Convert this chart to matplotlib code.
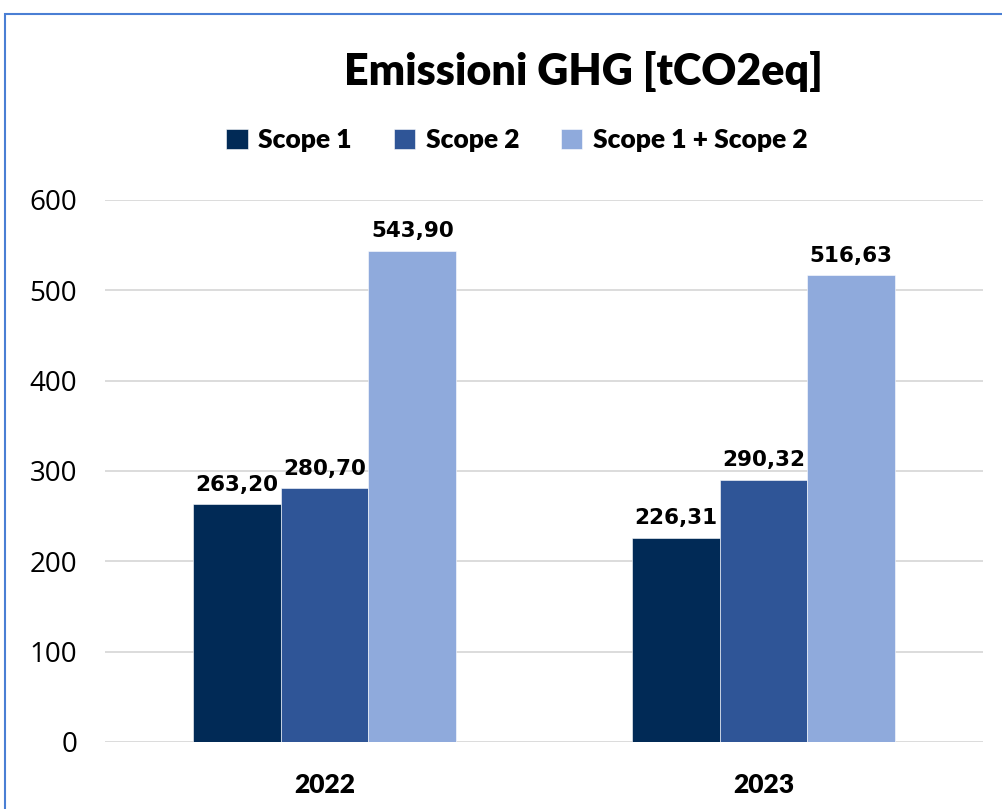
import matplotlib
matplotlib.use('Agg')
import matplotlib.pyplot as plt
from matplotlib.patches import Rectangle
import numpy as np

# data
years = ['2022', '2023']
series_names = ['Scope 1', 'Scope 2', 'Scope 1 + Scope 2']
scope1 = [263.20, 226.31]
scope2 = [280.70, 290.32]
scope_tot = [543.90, 516.63]
colors = ['#012a56', '#2f5597', '#8faadc']

fig = plt.figure(figsize=(10.02, 8.09), dpi=100)
ax = fig.add_axes([105/1002, 1-742/809, 878/1002, (742-200)/809])

x = np.arange(len(years))
w = 0.2
for i, (vals, name, c) in enumerate(zip([scope1, scope2, scope_tot], series_names, colors)):
    bars = ax.bar(x + (i-1)*w, vals, w, color=c, label=name, edgecolor='white', linewidth=0.4, zorder=3)
    for b, v in zip(bars, vals):
        ax.annotate(f'{v:.2f}'.replace('.', ','), (b.get_x()+b.get_width()/2, v),
                    xytext=(0, 7), textcoords='offset points', ha='center', va='bottom',
                    fontsize=15.5, fontweight='bold', family='DejaVu Sans')

ax.set_xlim(-0.5, 1.5)
ax.set_ylim(0, 600)
ax.set_yticks(range(0, 601, 100))
ax.yaxis.grid(True, color='#d9d9d9', linewidth=1.3, zorder=0)
for s in ax.spines.values():
    s.set_visible(False)
ax.tick_params(axis='y', length=0, pad=20)
ax.tick_params(axis='x', length=0, pad=22)
for t in ax.get_yticklabels():
    t.set_family('Open Sans')
    t.set_fontsize(20)
ax.set_xticks(x)
ax.set_xticklabels(years, fontsize=19, fontweight='heavy', family='Lato')

fig.text(583/1002, 1-71/809, 'Emissioni GHG [tCO2eq]', ha='center', va='center',
         fontsize=31, fontweight='heavy', family='Lato')

handles, labels = ax.get_legend_handles_labels()
fig.legend(handles, labels, loc='center', bbox_to_anchor=(517/1002, 1-140/809), ncol=3,
           frameon=False, prop={'family': 'Lato', 'weight': 'heavy', 'size': 19},
           handlelength=0.8, handleheight=0.8, handletextpad=0.4, columnspacing=1.6)

# blue chart border (left and top edges visible)
fig.patches.append(Rectangle((5/1002, -0.05), 1.2, 1-14/809+0.05, transform=fig.transFigure,
                             fill=False, edgecolor='#4a7fd4', linewidth=1.5))

fig.savefig('out.png', dpi=100)
